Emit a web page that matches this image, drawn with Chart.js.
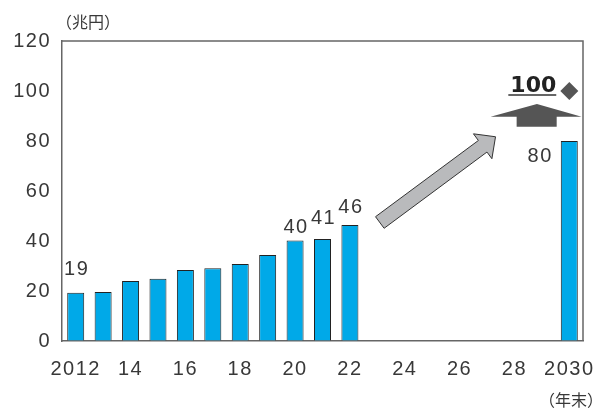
<!DOCTYPE html>
<html>
  <head>
    <meta charset="utf-8">
    <title>market size</title>
    <style>
      body { margin: 0; background: #fff; }
    </style>
  </head>
  <body>
    <canvas id="myChart" width="596" height="409"></canvas>

    <script src="https://cdn.jsdelivr.net/npm/chart.js"></script>
    <script>
    // data
    const years = ['2012','2013','2014','2015','2016','2017','2018','2019','2020','2021','2022',
                   '2023','2024','2025','2026','2027','2028','2029','2030'];
    const xTickLabels = ['2012','','14','','16','','18','','20','','22','','24','','26','','28','','2030'];
    const marketSize = [19.3, 19.6, 24.0, 24.9, 28.4, 29.1, 30.8, 34.4, 40.2, 40.8, 46.4,
                        null, null, null, null, null, null, null, 80];
    const target = [null, null, null, null, null, null, null, null, null, null, null,
                    null, null, null, null, null, null, null, 100];
    const labelIndex = [0, 8, 9, 10, 18];
    const labelText = ['19', '40', '41', '46', '80'];
    const yTitle = '（兆円）';
    const xTitle = '（年末）';

    const TXT = '#383838';
    const FONT = '"Liberation Sans", Arial, sans-serif';

    // label gaps above bar tops (px)
    const labelGap = [18, 8, 15, 12];

    function arrow(ctx, x0, y0, x1, y1, w, hw, hl) {
      const dx = x1 - x0, dy = y1 - y0;
      const len = Math.hypot(dx, dy);
      const ux = dx / len, uy = dy / len;
      const nx = -uy, ny = ux;
      const bx = x1 - ux * hl, by = y1 - uy * hl;
      ctx.beginPath();
      ctx.moveTo(x0 + nx * w, y0 + ny * w);
      ctx.lineTo(bx + nx * w, by + ny * w);
      ctx.lineTo(bx + nx * hw, by + ny * hw);
      ctx.lineTo(x1, y1);
      ctx.lineTo(bx - nx * hw, by - ny * hw);
      ctx.lineTo(bx - nx * w, by - ny * w);
      ctx.lineTo(x0 - nx * w, y0 - ny * w);
      ctx.closePath();
    }

    const annot = {
      id: 'annot',
      beforeDraw(chart) {
        chart.ctx.letterSpacing = '1.5px';
      },
      afterDatasetsDraw(chart) {
        const ctx = chart.ctx;
        const a = chart.chartArea;
        const x = chart.scales.x, y = chart.scales.y;
        const meta = chart.getDatasetMeta(0);
        ctx.save();

        // frame top / right
        ctx.strokeStyle = '#666';
        ctx.lineWidth = 1.5;
        ctx.beginPath();
        ctx.moveTo(a.left, a.top);
        ctx.lineTo(a.right, a.top);
        ctx.lineTo(a.right, a.bottom);
        ctx.stroke();

        // value labels
        ctx.fillStyle = TXT;
        ctx.font = '20px ' + FONT;
        ctx.textBaseline = 'alphabetic';
        labelIndex.forEach((idx, i) => {
          const bar = meta.data[idx];
          if (idx === 18) {
            ctx.textAlign = 'right';
            ctx.fillText(labelText[i], bar.x - bar.width / 2 - 8, bar.y + 21);
          } else {
            ctx.textAlign = 'center';
            ctx.fillText(labelText[i], bar.x + 1, bar.y - labelGap[i]);
          }
        });

        // diagonal arrow 2023 -> 2027
        ctx.fillStyle = '#b9babc';
        ctx.strokeStyle = '#333';
        ctx.lineWidth = 1;
        arrow(ctx, x.getPixelForValue(11.09), y.getPixelForValue(47.4),
              x.getPixelForValue(15.31), y.getPixelForValue(81.7), 7.2, 15.5, 16);
        ctx.fill();
        ctx.stroke();

        // up arrow below the target
        ctx.fillStyle = '#555';
        ctx.beginPath();
        ctx.moveTo(x.getPixelForValue(16.08), y.getPixelForValue(85.7));
        ctx.lineTo(x.getPixelForValue(16.08), y.getPixelForValue(89.7));
        ctx.lineTo(x.getPixelForValue(15.13), y.getPixelForValue(89.7));
        ctx.lineTo(x.getPixelForValue(16.82), y.getPixelForValue(94.8));
        ctx.lineTo(x.getPixelForValue(18.45), y.getPixelForValue(89.7));
        ctx.lineTo(x.getPixelForValue(17.54), y.getPixelForValue(89.7));
        ctx.lineTo(x.getPixelForValue(17.54), y.getPixelForValue(85.7));
        ctx.closePath();
        ctx.fill();

        // target label "100"
        const tp = chart.getDatasetMeta(1).data[18];
        ctx.letterSpacing = '0px';
        ctx.font = 'bold 22px "DejaVu Sans", sans-serif';
        ctx.fillStyle = '#222';
        ctx.textAlign = 'center';
        const tx = tp.x - 36, ty = tp.y + 1;
        ctx.fillText('100', tx, ty);
        const tw = ctx.measureText('100').width;
        ctx.strokeStyle = '#333';
        ctx.lineWidth = 1.5;
        ctx.beginPath();
        ctx.moveTo(tx - tw / 2 - 2, ty + 3);
        ctx.lineTo(tx + tw / 2, ty + 3);
        ctx.stroke();

        // unit titles
        ctx.font = '16px "Noto Sans CJK JP", sans-serif';
        ctx.fillStyle = TXT;
        ctx.textBaseline = 'middle';
        ctx.textAlign = 'left';
        ctx.fillText(yTitle, a.left - 6, 22);
        ctx.textAlign = 'right';
        ctx.fillText(xTitle, chart.width + 7, 400);

        ctx.restore();
      }
    };

    const ctx = document.getElementById('myChart');

    new Chart(ctx, {
      type: 'bar',
      data: {
        labels: years,
        datasets: [{
          data: marketSize,
          backgroundColor: '#00a9e8',
          borderColor: '#222',
          borderWidth: 1,
          categoryPercentage: 1,
          barPercentage: 0.62,
          order: 2
        }, {
          type: 'line',
          data: target,
          showLine: false,
          pointStyle: 'rectRot',
          pointRadius: 9,
          backgroundColor: '#555',
          borderColor: '#555',
          borderWidth: 0,
          order: 1
        }]
      },
      options: {
        responsive: false,
        animation: false,
        events: [],
        layout: { padding: { top: 41, right: 13, left: 0, bottom: 0 } },
        plugins: {
          legend: { display: false },
          tooltip: { enabled: false }
        },
        scales: {
          x: {
            grid: { drawOnChartArea: false, drawTicks: false },
            border: { color: '#666', width: 1.5 },
            ticks: {
              autoSkip: false,
              maxRotation: 0,
              padding: 16,
              color: TXT,
              font: { family: FONT, size: 20 },
              callback: (v, i) => xTickLabels[i]
            },
            afterFit: (s) => { s.height = 68; s.paddingLeft = 0; s.paddingRight = 0; }
          },
          y: {
            min: 0,
            max: 120,
            grid: { drawOnChartArea: false, drawTicks: false },
            border: { color: '#666', width: 1.5 },
            ticks: {
              stepSize: 20,
              padding: 11,
              color: TXT,
              font: { family: FONT, size: 20 }
            },
            afterFit: (s) => { s.width = 62; }
          }
        }
      },
      plugins: [annot]
    });
    </script>
  </body>
</html>
